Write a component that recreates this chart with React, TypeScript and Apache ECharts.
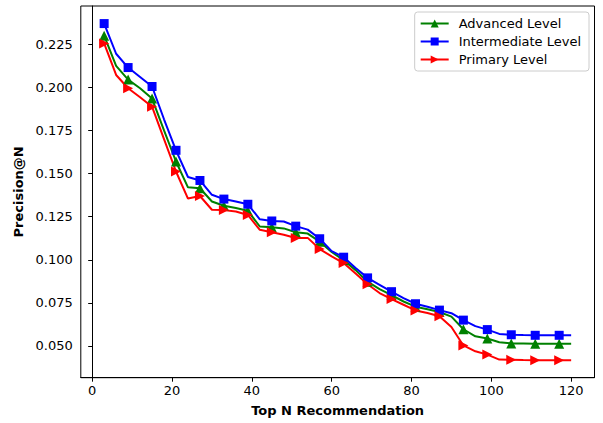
import React, { useEffect, useRef } from "react";
import * as echarts from "echarts";

const topN = [3, 6, 9, 12, 15, 18, 21, 24, 27, 30, 33, 36, 39, 42, 45, 48, 51, 54, 57, 60, 63, 66, 69, 72, 75, 78, 81, 84, 87, 90, 93, 96, 99, 102, 105, 108, 111, 114, 117, 120];

const advanced = [0.2300, 0.2125, 0.2045, 0.1995, 0.1935, 0.1750, 0.1570, 0.1420, 0.1415, 0.1338, 0.1313, 0.1300, 0.1284, 0.1193, 0.1188, 0.1182, 0.1160, 0.1152, 0.1105, 0.1045, 0.0998, 0.0940, 0.0873, 0.0830, 0.0795, 0.0758, 0.0728, 0.0713, 0.0697, 0.0670, 0.0597, 0.0556, 0.0543, 0.0522, 0.0515, 0.0514, 0.0513, 0.0513, 0.0513, 0.0513];

const intermediate = [0.2370, 0.2195, 0.2115, 0.2060, 0.2005, 0.1815, 0.1635, 0.1480, 0.1460, 0.1377, 0.1352, 0.1338, 0.1322, 0.1235, 0.1225, 0.1222, 0.1195, 0.1175, 0.1122, 0.1050, 0.1015, 0.0952, 0.0895, 0.0855, 0.0815, 0.0778, 0.0745, 0.0728, 0.0708, 0.0690, 0.0650, 0.0615, 0.0595, 0.0570, 0.0565, 0.0563, 0.0562, 0.0562, 0.0562, 0.0562];

const primary = [0.2255, 0.2072, 0.1995, 0.1943, 0.1888, 0.1700, 0.1512, 0.1355, 0.1370, 0.1290, 0.1288, 0.1280, 0.1260, 0.1174, 0.1160, 0.1145, 0.1126, 0.1127, 0.1062, 0.1020, 0.0981, 0.0920, 0.0858, 0.0807, 0.0772, 0.0739, 0.0706, 0.0691, 0.0672, 0.0610, 0.0503, 0.0469, 0.0450, 0.0421, 0.0420, 0.0418, 0.0417, 0.0417, 0.0417, 0.0417];

const xTicks = [0, 20, 40, 60, 80, 100, 120];
const yTicks = [0.05, 0.075, 0.1, 0.125, 0.15, 0.175, 0.2, 0.225];

const seriesNames = ["Advanced Level", "Intermediate Level", "Primary Level"];
const FONT = "DejaVu Sans";

function buildData(vals: number[]) {
  return topN.map((x, i) =>
    i % 2 === 0 ? { value: [x, vals[i]] } : { value: [x, vals[i]], symbol: "none" }
  );
}

export default function App() {
  const ref = useRef<HTMLDivElement>(null);
  useEffect(() => {
    if (!ref.current) return;
    const chart = echarts.init(ref.current, undefined, { renderer: "svg" });
    const mk = (name: string, vals: number[], color: string, symbol: string, size: number) => ({
      name,
      type: "line",
      data: buildData(vals),
      symbol,
      symbolSize: size,
      showAllSymbol: true,
      color,
      lineStyle: { color, width: 2 },
      itemStyle: { color, borderWidth: 0 },
      emphasis: { disabled: true },
    });
    chart.setOption({
      animation: false,
      backgroundColor: "#ffffff",
      textStyle: { fontFamily: FONT },
      grid: {
        left: 80.8,
        right: 8.5,
        top: 6,
        bottom: 45.3,
        show: true,
        borderColor: "#000",
        borderWidth: 1,
        backgroundColor: "transparent",
      },
      legend: {
        data: seriesNames,
        orient: "vertical",
        right: 14,
        top: 12,
        itemWidth: 28,
        itemHeight: 10,
        itemGap: 5,
        padding: [5, 8, 5, 5],
        borderColor: "#cccccc",
        borderWidth: 1,
        borderRadius: 3,
        backgroundColor: "rgba(255,255,255,0.8)",
        textStyle: { fontFamily: FONT, fontSize: 13, color: "#000", padding: [0, 0, 0, 5] },
      },
      xAxis: {
        type: "value",
        min: -2.85,
        max: 125.85,
        name: "Top N Recommendation",
        nameLocation: "middle",
        nameGap: 26,
        nameTextStyle: { fontFamily: FONT, fontSize: 13, fontWeight: "bold", color: "#000" },
        axisLine: { show: true, lineStyle: { color: "#000", width: 1 } },
        axisTick: { show: true, length: 4, lineStyle: { color: "#000" }, customValues: xTicks },
        axisLabel: { fontFamily: FONT, fontSize: 13, color: "#000", margin: 6, customValues: xTicks, formatter: (v: number) => String(v) },
        splitLine: { show: false },
      },
      yAxis: {
        type: "value",
        min: 0.0316,
        max: 0.2472,
        name: "Precision@N",
        nameLocation: "middle",
        nameGap: 54,
        nameRotate: 90,
        nameTextStyle: { fontFamily: FONT, fontSize: 13, fontWeight: "bold", color: "#000" },
        axisLine: { show: true, lineStyle: { color: "#000", width: 1 } },
        axisTick: { show: true, length: 4, lineStyle: { color: "#000" }, customValues: yTicks },
        axisLabel: { fontFamily: FONT, fontSize: 13, color: "#000", margin: 8, customValues: yTicks, formatter: (v: number) => v.toFixed(3) },
        splitLine: { show: false },
      },
      series: [
        mk(seriesNames[0], advanced, "#008000", "triangle", 10),
        mk(seriesNames[1], intermediate, "#0000ff", "rect", 9),
        mk(seriesNames[2], primary, "#ff0000", "path://M0,0 L10,5 L0,10 Z", 10),
      ],
    });
    return () => chart.dispose();
  }, []);
  return (
    <div
      ref={ref}
      style={{ position: "fixed", left: 0, top: 0, width: 603, height: 423, background: "#fff" }}
    />
  );
}
